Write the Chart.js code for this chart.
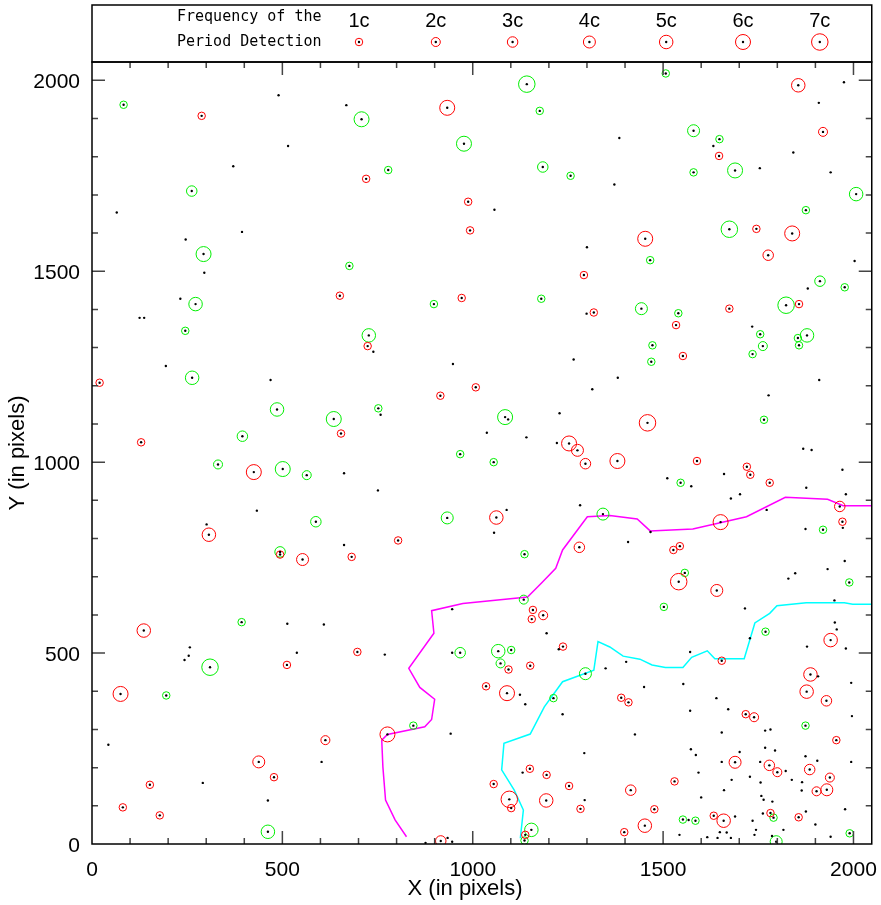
<!DOCTYPE html>
<html>
<head>
<meta charset="utf-8">
<title>Period detection map</title>
<script src="https://cdn.jsdelivr.net/npm/chart.js@4.4.1/dist/chart.umd.min.js"></script>
<style>
  html, body { margin: 0; padding: 0; background: #ffffff; }
  #wrap { width: 881px; height: 905px; }
</style>
</head>
<body>
<div id="wrap"><canvas id="chart" width="881" height="905"></canvas></div>
<script>
const xTickLabels = [0, 500, 1000, 1500, 2000];
const yTickLabels = [0, 500, 1000, 1500, 2000];
const freqLabels = ["1c", "2c", "3c", "4c", "5c", "6c", "7c"];
const freqLevels = [1, 2, 3, 4, 5, 6, 7];

// stars with a period detection (red), grouped 10 per row
const redX = [
  288, 651, 933, 720, 988, 993, 1292, 971, 1318, 1855,
  1920, 1647, 1453, 1745, 1839, 1776, 1857, 1674, 1534, 20,
  654, 129, 425, 307, 494, 553, 682, 724, 1008, 915,
  1253, 1275, 1296, 1062, 804, 1280, 1552, 1459, 1380, 1589,
  1720, 1729, 1780, 1964, 1651, 1971, 1544, 1527, 1541, 136,
  512, 75, 613, 438, 152, 478, 81, 178, 1158, 1185,
  1155, 697, 1094, 1151, 1237, 1035, 1090, 776, 1150, 1194,
  1055, 1253, 1096, 1101, 1193, 1283, 1138, 916, 1641, 1940,
  1654, 1887, 1877, 1929, 1390, 1409, 1717, 1739, 1955, 1689,
  1779, 1800, 1885, 1938, 1530, 1415, 1903, 1930, 1477, 1452,
  1398, 1633, 1659, 1782, 1856
];
const redY = [
  1907, 1436, 1928, 1742, 1682, 1607, 1490, 1430, 1392, 1987,
  1865, 1802, 1585, 1611, 1599, 1542, 1414, 1402, 1359, 1208,
  1075, 1052, 974, 810, 758, 745, 752, 1304, 1196, 1174,
  1049, 1031, 996, 855, 795, 777, 1278, 1103, 1003, 1003,
  988, 967, 946, 884, 843, 844, 780, 770, 687, 559,
  469, 393, 272, 215, 155, 175, 96, 75, 613, 599,
  589, 503, 457, 467, 517, 413, 395, 287, 197, 181,
  157, 152, 117, 94, 114, 92, 24, 8, 664, 534,
  480, 444, 399, 375, 383, 371, 340, 332, 272, 214,
  206, 188, 195, 174, 164, 141, 138, 142, 91, 48,
  31, 74, 61, 81, 70
];
const redFreq = [
  1, 1, 6, 1, 1, 1, 1, 1, 1, 5,
  2, 1, 6, 1, 6, 3, 1, 1, 1, 1,
  1, 1, 6, 5, 1, 4, 1, 1, 1, 1,
  6, 4, 3, 5, 1, 3, 1, 7, 6, 1,
  1, 1, 1, 3, 6, 1, 1, 1, 7, 5,
  1, 6, 2, 4, 1, 1, 1, 1, 1, 2,
  1, 1, 1, 1, 1, 1, 6, 6, 1, 1,
  1, 1, 7, 1, 5, 1, 1, 3, 4, 5,
  1, 5, 5, 3, 1, 1, 1, 2, 1, 4,
  3, 2, 3, 2, 1, 3, 2, 4, 1, 5,
  1, 1, 5, 1, 1
];

// green marked stars
const greenX = [
  83, 262, 293, 676, 272, 1142, 1176, 708, 977, 1184,
  778, 1257, 898, 1180, 1507, 1580, 1648, 1689, 1580, 2007,
  1875, 1674, 1466, 1912, 1977, 1823, 1443, 1540, 245, 263,
  486, 635, 395, 331, 501, 564, 588, 494, 727, 752,
  1085, 967, 1055, 933, 1136, 1342, 1755, 1762, 1735, 1854,
  1857, 1878, 1472, 1469, 1765, 1546, 1920, 1557, 1989, 393,
  310, 195, 462, 1134, 967, 1067, 1101, 1073, 1296, 1212,
  844, 1154, 1136, 1502, 1769, 1874, 1552, 1585, 1790, 1797,
  1990
];
const greenY = [
  1936, 1710, 1545, 1514, 1414, 1990, 1920, 1898, 1834, 1773,
  1765, 1750, 1414, 1428, 2018, 1868, 1846, 1764, 1759, 1702,
  1660, 1610, 1529, 1474, 1458, 1411, 1402, 1390, 1344, 1221,
  1138, 1113, 1068, 994, 982, 966, 844, 765, 1332, 1141,
  1118, 1021, 1000, 854, 759, 864, 1335, 1304, 1283, 1325,
  1306, 1332, 1306, 1263, 1111, 946, 823, 710, 685, 581,
  463, 389, 32, 640, 501, 505, 508, 473, 446, 382,
  310, 37, 9, 621, 556, 310, 64, 61, 69, 6,
  28
];
const greenFreq = [
  1, 3, 6, 1, 5, 7, 1, 6, 6, 3,
  1, 1, 1, 1, 1, 4, 1, 6, 1, 5,
  1, 7, 1, 3, 1, 7, 4, 1, 1, 5,
  5, 6, 3, 2, 6, 2, 3, 3, 5, 1,
  6, 1, 1, 4, 1, 4, 1, 2, 1, 1,
  1, 5, 1, 1, 1, 1, 1, 1, 1, 1,
  7, 1, 5, 2, 3, 5, 1, 2, 4, 1,
  1, 5, 1, 1, 1, 1, 1, 1, 1, 4,
  1
];

// stars without a detection
const starX = [
  490, 668, 515, 371, 65, 394, 246, 295, 232, 125,
  137, 1057, 1300, 1299, 1975, 1909, 1385, 1632, 1754, 1842,
  1940, 1372, 2003, 1880, 194, 469, 662, 433, 301, 662,
  739, 948, 1265, 1314, 758, 1093, 1228, 1037, 1141, 1221,
  751, 1089, 1056, 1282, 1734, 1381, 1910, 1777, 1868, 1890,
  1971, 1511, 1574, 1660, 1876, 1980, 1702, 1678, 1772, 1972,
  1874, 1467, 1408, 1977, 1932, 1847, 1829, 513, 609, 257,
  254, 243, 538, 43, 603, 291, 462, 946, 1194, 769,
  946, 1226, 1349, 1124, 1138, 1236, 942, 1293, 1131, 1294,
  934, 946, 876, 1715, 1950, 1951, 1956, 1728, 1980, 1878,
  1571, 1403, 1553, 1450, 1907, 1994, 1640, 1671, 1571, 1996,
  1426, 1654, 1768, 1782, 1573, 1586, 1701, 1768, 1794, 1654,
  1755, 1822, 1874, 1905, 1994, 1593, 1680, 1728, 1756, 1838,
  1865, 1600, 1660, 1758, 1764, 1864, 1787, 1567, 1543, 1689,
  1649, 1667, 1616, 1643, 1678, 1735, 1744, 1740, 1762, 1816,
  1786, 1875, 1900, 1940, 1978
];
const starY = [
  1961, 1935, 1828, 1775, 1654, 1603, 1583, 1496, 1428, 1378,
  1378, 1661, 1563, 1389, 1995, 1941, 1849, 1828, 1770, 1811,
  1759, 1727, 1527, 1455, 1252, 1215, 971, 873, 837, 783,
  1289, 1257, 1269, 1191, 1124, 1112, 1128, 1077, 1065, 1050,
  926, 875, 815, 887, 1355, 1221, 1215, 1175, 1035, 1032,
  980, 958, 937, 969, 933, 916, 916, 905, 875, 828,
  825, 817, 791, 741, 720, 709, 695, 577, 575, 515,
  493, 482, 501, 260, 215, 160, 114, 615, 552, 496,
  501, 510, 460, 391, 366, 340, 289, 238, 187, 115,
  16, 6, 3, 617, 638, 580, 562, 539, 512, 517,
  503, 477, 419, 411, 439, 422, 382, 353, 349, 335,
  287, 292, 297, 300, 248, 233, 241, 252, 245, 215,
  215, 191, 230, 218, 215, 187, 168, 176, 161, 168,
  162, 122, 141, 126, 116, 140, 111, 63, 24, 72,
  31, 30, 18, 16, 16, 61, 37, 24, 80, 37,
  21, 85, 51, 19, 91
];

// boundary curves
const magentaX = [2048, 1973, 1932, 1821, 1719, 1578, 1466, 1432, 1360, 1301, 1236, 1218, 1182, 1144,
  974, 892, 898, 832, 861, 900, 892, 874, 776, 761, 764, 771, 796, 826];
const magentaY = [886, 886, 903, 908, 857, 825, 820, 851, 860, 857, 770, 722, 685, 647,
  630, 611, 552, 460, 410, 379, 326, 307, 287, 272, 202, 115, 63, 19];
const cyanX = [2048, 1998, 1976, 1876, 1799, 1780, 1741, 1713, 1636, 1616, 1575, 1552, 1506, 1471,
  1439, 1395, 1360, 1329, 1318, 1236, 1188, 1151, 1082, 1076, 1109, 1133, 1125];
const cyanY = [628, 628, 632, 632, 624, 604, 579, 485, 485, 506, 489, 462, 462, 469,
  484, 492, 516, 530, 455, 425, 359, 288, 264, 194, 141, 89, 15];

; (function (document) {
  "use strict";

  const FONT = "'Liberation Sans', Arial, sans-serif";
  const radiusFor = (n) => 3 + 0.75 * n;
  const toPoints = (xs, ys) => xs.map((x, i) => ({ x: x, y: ys[i] }));

  // every marked star also gets its black centre dot
  const allDotX = starX.concat(redX, greenX);
  const allDotY = starY.concat(redY, greenY);

  // frame, inward ticks on all four sides, tick labels and axis titles
  const framePlugin = {
    id: "frameTicks",
    afterDraw: (chart) => {
      const { ctx, chartArea: a, scales } = chart;
      ctx.save();
      ctx.strokeStyle = "#444";
      ctx.lineWidth = 1.5;
      ctx.beginPath();
      for (let v = 100; v <= 2000; v += 100) {
        const len = v % 500 === 0 ? 13 : 6;
        const px = scales.x.getPixelForValue(v);
        const py = scales.y.getPixelForValue(v);
        ctx.moveTo(px, a.bottom); ctx.lineTo(px, a.bottom - len);
        ctx.moveTo(px, a.top); ctx.lineTo(px, a.top + len);
        ctx.moveTo(a.left, py); ctx.lineTo(a.left + len, py);
        ctx.moveTo(a.right, py); ctx.lineTo(a.right - len, py);
      }
      ctx.stroke();
      ctx.strokeStyle = "#000";
      ctx.strokeRect(a.left, a.top, a.right - a.left, a.bottom - a.top);

      ctx.fillStyle = "#000";
      ctx.font = "21px " + FONT;
      ctx.textBaseline = "middle";
      ctx.textAlign = "center";
      xTickLabels.forEach((v) => {
        ctx.fillText(String(v), scales.x.getPixelForValue(v), a.bottom + 26);
      });
      ctx.textAlign = "right";
      yTickLabels.forEach((v) => {
        ctx.fillText(String(v), a.left - 12, scales.y.getPixelForValue(v) + 2);
      });

      ctx.font = "22px " + FONT;
      ctx.textAlign = "center";
      ctx.fillText("X (in pixels)", 465, 889);
      ctx.translate(18, (a.top + a.bottom) / 2);
      ctx.rotate(-Math.PI / 2);
      ctx.fillText("Y (in pixels)", 0, 0);
      ctx.restore();
    },
  };

  // the frequency key above the plot
  const keyPlugin = {
    id: "freqKey",
    afterDraw: (chart) => {
      const ctx = chart.ctx;
      const a = chart.chartArea;
      ctx.save();
      ctx.strokeStyle = "#000";
      ctx.lineWidth = 1.5;
      ctx.strokeRect(a.left, 5, a.right - a.left, a.top - 5);
      ctx.fillStyle = "#000";
      ctx.font = "15px 'DejaVu Sans Mono', monospace";
      ctx.textAlign = "left";
      ctx.textBaseline = "middle";
      ctx.fillText("Frequency of the", 177, 17);
      ctx.fillText("Period Detection", 177, 42);
      ctx.font = "20px " + FONT;
      ctx.textAlign = "center";
      freqLabels.forEach((label, i) => {
        const cx = 359 + i * 76.8;
        ctx.fillStyle = "#000";
        ctx.fillText(label, cx, 21);
        ctx.beginPath();
        ctx.strokeStyle = "#ff0000";
        ctx.lineWidth = 1;
        ctx.arc(cx, 42, radiusFor(freqLevels[i]), 0, Math.PI * 2);
        ctx.stroke();
        ctx.beginPath();
        ctx.arc(cx, 42, 1.2, 0, Math.PI * 2);
        ctx.fill();
      });
      ctx.restore();
    },
  };

  new Chart(document.getElementById("chart").getContext("2d"), {
    type: "scatter",
    data: {
      datasets: [
        {
          label: "stars",
          data: toPoints(allDotX, allDotY),
          pointRadius: 1.2,
          pointBackgroundColor: "#000",
          pointBorderWidth: 0,
        },
        {
          label: "detected",
          data: toPoints(redX, redY),
          pointRadius: redFreq.map(radiusFor),
          pointBackgroundColor: "rgba(0,0,0,0)",
          pointBorderColor: "#ff0000",
          pointBorderWidth: 1,
        },
        {
          label: "marked",
          data: toPoints(greenX, greenY),
          pointRadius: greenFreq.map(radiusFor),
          pointBackgroundColor: "rgba(0,0,0,0)",
          pointBorderColor: "#00ee00",
          pointBorderWidth: 1,
        },
        {
          label: "magenta boundary",
          data: toPoints(magentaX, magentaY),
          showLine: true,
          pointRadius: 0,
          borderColor: "#ff00ff",
          borderWidth: 1.5,
        },
        {
          label: "cyan boundary",
          data: toPoints(cyanX, cyanY),
          showLine: true,
          pointRadius: 0,
          borderColor: "#00ffff",
          borderWidth: 1.5,
        },
      ],
    },
    options: {
      responsive: false,
      animation: false,
      devicePixelRatio: 1,
      // the plot box sits at 92..876 x 62..844, labels are drawn by framePlugin
      layout: { padding: { top: 62, right: 5, left: 92, bottom: 61 } },
      plugins: {
        legend: { display: false },
        tooltip: { enabled: false },
      },
      scales: {
        x: { type: "linear", min: 0, max: 2048, display: false },
        y: { type: "linear", min: 0, max: 2048, display: false },
      },
    },
    plugins: [framePlugin, keyPlugin],
  });
})(document);
</script>
</body>
</html>
